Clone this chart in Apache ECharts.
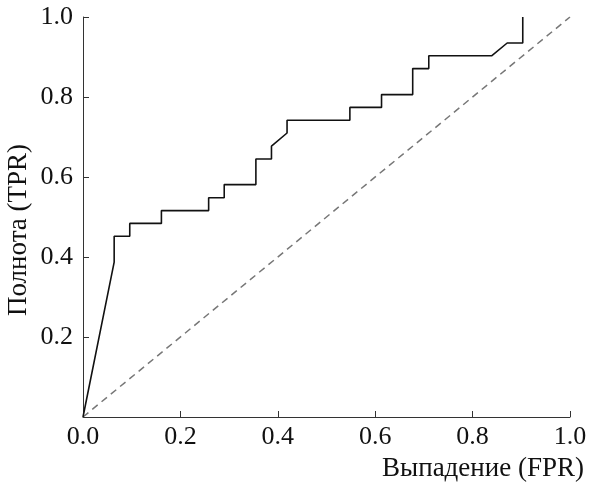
<!DOCTYPE html>
<html>
<head>
<meta charset="utf-8">
<script src="https://cdn.jsdelivr.net/npm/echarts@6/dist/echarts.min.js"></script>
<style>
  html, body { margin: 0; padding: 0; background: #fff; }
  #chart { width: 589px; height: 484px; }
</style>
</head>
<body>
<div id="chart"></div>
<script>
// ROC curve points
const fpr = [0, 0.064, 0.064, 0.096, 0.096, 0.161, 0.161, 0.258, 0.258, 0.290, 0.290,
  0.355, 0.355, 0.387, 0.387, 0.419, 0.419, 0.548, 0.548, 0.613, 0.613, 0.677, 0.677,
  0.710, 0.710, 0.839, 0.871, 0.903, 0.903]
const tpr = [0, 0.387, 0.452, 0.452, 0.484, 0.484, 0.516, 0.516, 0.548, 0.548, 0.581,
  0.581, 0.645, 0.645, 0.677, 0.710, 0.742, 0.742, 0.774, 0.774, 0.806, 0.806, 0.871,
  0.871, 0.903, 0.903, 0.935, 0.935, 1.0]
const chanceX = [0, 1]
const chanceY = [0, 1]
const xName = 'Выпадение (FPR)'
const yName = 'Полнота (TPR)'

const font = "'Liberation Serif', 'Times New Roman', serif"
const chart = echarts.init(document.getElementById('chart'))

const axisCommon = {
  type: 'value',
  min: 0,
  max: 1,
  interval: 0.2,
  splitLine: { show: false },
  axisLine: { show: true, lineStyle: { color: '#333', width: 1 } },
  axisTick: { show: true, inside: true, length: 6, lineStyle: { color: '#333' } },
  axisLabel: {
    color: '#111',
    fontFamily: font,
    fontSize: 26,
    formatter: (v) => v.toFixed(1),
  },
}

chart.setOption({
  animation: false,
  grid: { left: 83, right: 19, top: 17, bottom: 67, outerBoundsMode: 'none', containLabel: false },
  xAxis: {
    ...axisCommon,
    axisLabel: { ...axisCommon.axisLabel, margin: 7 },
    name: xName,
    nameLocation: 'end',
    nameGap: 14,
    nameMoveOverlap: false,
    nameTextStyle: {
      color: '#111',
      fontFamily: font,
      fontSize: 27,
      align: 'right',
      verticalAlign: 'top',
      padding: [38, 0, 0, 0],
    },
  },
  yAxis: {
    ...axisCommon,
    axisLabel: {
      ...axisCommon.axisLabel,
      margin: 10,
      formatter: (v) => (v === 0 ? '' : v.toFixed(1)),
    },
    name: yName,
    nameLocation: 'middle',
    nameGap: 51,
    nameMoveOverlap: false,
    nameTextStyle: {
      color: '#111',
      fontFamily: font,
      fontSize: 27,
      padding: [0, 26, 0, 0],
    },
  },
  series: [
    {
      type: 'line',
      data: chanceX.map((x, i) => [x, chanceY[i]]),
      symbol: 'none',
      silent: true,
      lineStyle: { color: '#777', width: 1.5, type: [7, 5] },
    },
    {
      type: 'line',
      data: fpr.map((x, i) => [x, tpr[i]]),
      symbol: 'none',
      silent: true,
      lineStyle: { color: '#111', width: 1.6 },
    },
  ],
})
</script>
</body>
</html>
